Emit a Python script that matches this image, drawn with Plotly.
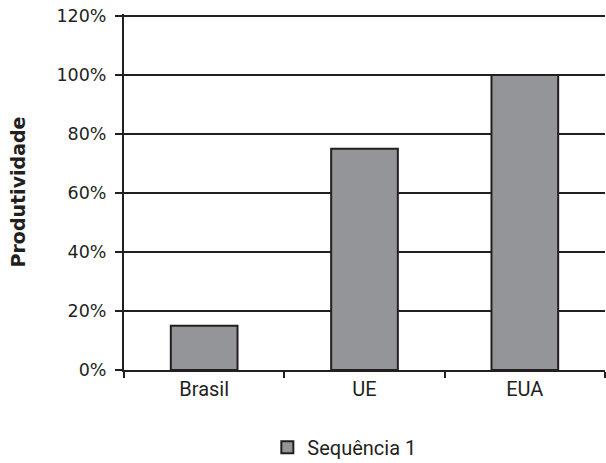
import plotly.graph_objects as go

categories = ["Brasil", "UE", "EUA"]
values = [0.15, 0.75, 1.00]
series_name = "Sequência 1"
y_ticks = [0, 0.2, 0.4, 0.6, 0.8, 1.0, 1.2]
y_tick_labels = ["0%", "20%", "40%", "60%", "80%", "100%", "120%"]

dark = "#231f20"
fig = go.Figure()
fig.add_trace(go.Bar(
    x=categories, y=values, name=series_name,
    marker=dict(color="#939598", line=dict(color=dark, width=2)),
    width=0.416, showlegend=True,
))
fig.update_layout(
    width=606, height=463,
    margin=dict(l=124, r=1, t=14, b=93, autoexpand=False),
    paper_bgcolor="white", plot_bgcolor="white",
    font=dict(family="Roboto, sans-serif", size=20, color=dark),
    showlegend=True,
    legend=dict(orientation="h", x=0.298, xanchor="left", y=-0.217, yanchor="middle",
                font=dict(family="Roboto, sans-serif", size=20, color=dark)),
    xaxis=dict(
        showline=True, linecolor=dark, linewidth=2,
        ticks="outside", ticklen=6, tickcolor=dark, tickwidth=2,
        tickson="boundaries", showgrid=False,
        tickfont=dict(family="Roboto, sans-serif", size=20, color=dark),
    ),
    yaxis=dict(
        range=[0, 1.2068], tickvals=y_ticks, ticktext=y_tick_labels,
        showline=True, linecolor=dark, linewidth=2,
        ticks="outside", ticklen=7, tickcolor=dark, tickwidth=2,
        ticklabelstandoff=5, ticklabeloverflow="allow",
        showgrid=True, gridcolor=dark, gridwidth=1.6, zeroline=False,
        tickfont=dict(family="DejaVu Sans, sans-serif", size=17.5, color=dark),
        title=dict(text="<b>Produtividade</b>",
                   font=dict(family="DejaVu Sans, sans-serif", size=19, color=dark),
                   standoff=26),
    ),
)
fig.write_html("out.html", config={"displayModeBar": False},
               post_script="document.body.style.margin='0';")
